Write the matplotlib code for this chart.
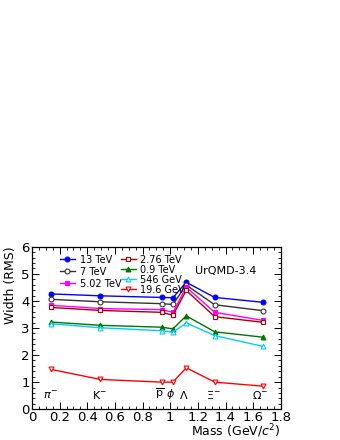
import matplotlib
matplotlib.use("Agg")
import matplotlib.pyplot as plt
from matplotlib.ticker import MultipleLocator, FuncFormatter

mass = [0.1396, 0.4937, 0.9383, 1.0195, 1.1157, 1.3217, 1.6725]
particles = [r"$\pi^{-}$", r"$\mathrm{K}^{-}$", r"$\overline{\mathrm{p}}$", r"$\phi$",
             r"$\Lambda$", r"$\Xi^{-}$", r"$\Omega^{-}$"]
particle_x = [0.13, 0.49, 0.92, 1.00, 1.10, 1.31, 1.65]

labels = ["13 TeV", "7 TeV", "5.02 TeV", "2.76 TeV", "0.9 TeV", "546 GeV", "19.6 GeV"]
w13 = [4.26, 4.19, 4.13, 4.12, 4.69, 4.13, 3.95]
w7 = [4.06, 3.97, 3.90, 3.87, 4.59, 3.86, 3.64]
w502 = [3.84, 3.72, 3.68, 3.58, 4.51, 3.58, 3.28]
w276 = [3.76, 3.65, 3.58, 3.47, 4.39, 3.42, 3.21]
w09 = [3.22, 3.10, 3.03, 2.97, 3.45, 2.86, 2.66]
w546 = [3.16, 3.01, 2.90, 2.84, 3.19, 2.72, 2.32]
w196 = [1.47, 1.10, 1.00, 1.00, 1.53, 1.00, 0.85]

series = [w13, w7, w502, w276, w09, w546, w196]
colors = ["#0000ff", "#333333", "#ff00ff", "#aa0000", "#007700", "#00ccff", "#ff0000"]
markers = ["o", "o", "s", "s", "^", "^", "v"]
filled = [True, False, True, False, True, False, False]

fig = plt.figure(figsize=(3.4, 4.4), dpi=100)
ax = fig.add_axes([0.094, 0.070, 0.732, 0.369])

handles = []
for y, lab, c, m, f in zip(series, labels, colors, markers, filled):
    h, = ax.plot(mass, y, color=c, marker=m, ms=3.5, lw=1.0,
                 mfc=c if f else "white", mec=c, mew=0.8, label=lab)
    handles.append(h)

ax.set_xlim(0, 1.8)
ax.set_ylim(0, 6)
ax.xaxis.set_major_locator(MultipleLocator(0.2))
ax.xaxis.set_minor_locator(MultipleLocator(0.05))
ax.yaxis.set_major_locator(MultipleLocator(1))
ax.yaxis.set_minor_locator(MultipleLocator(0.2))
ax.xaxis.set_major_formatter(FuncFormatter(lambda v, p: f"{v:.1f}".rstrip("0").rstrip(".") if abs(v) > 1e-9 else "0"))
ax.tick_params(which="both", direction="in", top=True, right=True, labelsize=9.5, pad=1.5)
ax.tick_params(which="major", length=5, width=0.7)
ax.tick_params(which="minor", length=2.5, width=0.6)
for s in ax.spines.values():
    s.set_linewidth(0.9)

for px, pl in zip(particle_x, particles):
    ax.text(px, 0.3, pl, fontsize=8, ha="center", va="bottom")

ax.text(1.40, 5.1, "UrQMD-3.4", fontsize=8, ha="center", va="center")

leg1 = ax.legend(handles=handles[:3], loc="upper left", bbox_to_anchor=(0.08, 1.0),
                 frameon=False, fontsize=7, handlelength=1.6, handletextpad=0.5,
                 labelspacing=0.2, borderpad=0.3)
ax.add_artist(leg1)
ax.legend(handles=handles[3:], loc="upper left", bbox_to_anchor=(0.325, 1.0),
          frameon=False, fontsize=7, handlelength=1.6, handletextpad=0.4,
          labelspacing=0.0, borderpad=0.3)

ax.set_xlabel(r"Mass (GeV/$c^{2}$)", fontsize=9, loc="right", labelpad=-1)
ax.set_ylabel("Width (RMS)", fontsize=9, loc="top", labelpad=3)

fig.savefig("out.png", dpi=100)
